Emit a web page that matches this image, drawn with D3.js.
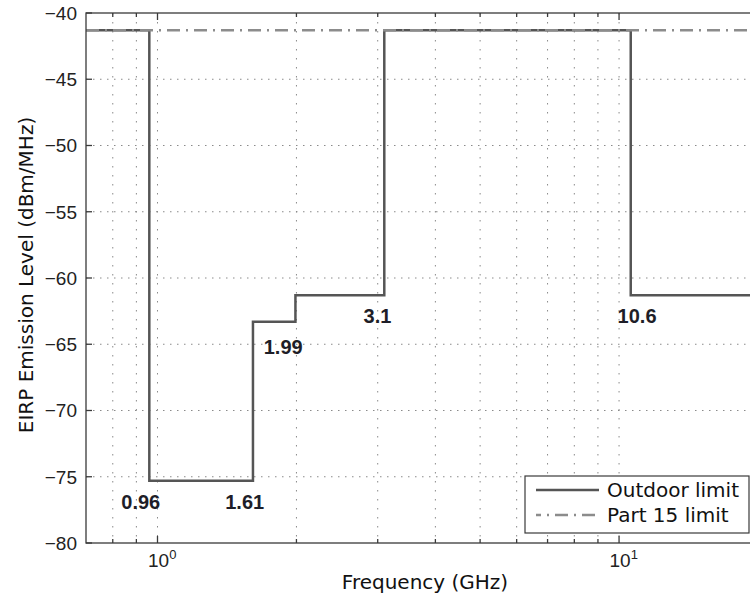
<!DOCTYPE html>
<html>
<head>
<meta charset="utf-8">
<script src="https://cdn.jsdelivr.net/npm/d3@7"></script>
<style>
  html, body { margin: 0; padding: 0; background: #fff; }
  svg { display: block; }
</style>
</head>
<body>
<script>
// ---- data ----
const freqEdges = [0.7, 0.96, 1.61, 1.99, 3.1, 10.6, 20];          // GHz
const outdoorLevels = [-41.3, -75.3, -63.3, -61.3, -41.3, -61.3];  // dBm/MHz per band
const part15Freq = [0.7, 20];
const part15Levels = [-41.3, -41.3];
const yTicks = [-80, -75, -70, -65, -60, -55, -50, -45, -40];
const xMajorTicks = [1, 10];
const xMajorLabels = ["0", "1"]; // exponents of 10
const xMinorTicks = [0.8, 0.9, 2, 3, 4, 5, 6, 7, 8, 9, 20];
const annoText = ["0.96", "1.61", "1.99", "3.1", "10.6"];
const annoFreq = [0.92, 1.545, 1.872, 2.996, 10.94];
const annoLevel = [-77.4, -77.4, -65.7, -63.4, -63.4];
const legendLabels = ["Outdoor limit", "Part 15 limit"];

// ---- layout ----
const W = 750, H = 597;
const L = 86, R = 758, T = 13, B = 543;
const svg = d3.select("body").append("svg").attr("width", W).attr("height", H);
svg.append("rect").attr("width", W).attr("height", H).attr("fill", "#fff");

const x = d3.scaleLog().domain([0.7, 20]).range([L, R]);
const y = d3.scaleLinear().domain([-80, -40]).range([B, T]);

svg.append("clipPath").attr("id", "plotclip").append("rect")
  .attr("x", L).attr("y", T).attr("width", R - L).attr("height", B - T);

const gridColor = "#8a8a8a";
const grid = svg.append("g");
// horizontal grid
grid.selectAll(".hg").data(yTicks.filter(v => v > -80 && v < -40)).enter().append("line")
  .attr("x1", L).attr("x2", R).attr("y1", d => y(d)).attr("y2", d => y(d))
  .attr("stroke", gridColor).attr("stroke-width", 1).attr("stroke-dasharray", "1.5,5.5");
// vertical grid
grid.selectAll(".vg").data(xMajorTicks.concat(xMinorTicks)).enter().append("line")
  .attr("x1", d => x(d)).attr("x2", d => x(d)).attr("y1", T).attr("y2", B)
  .attr("stroke", gridColor).attr("stroke-width", 1).attr("stroke-dasharray", "1.5,7.5");

// lines
const plot = svg.append("g").attr("clip-path", "url(#plotclip)");
const stepPts = freqEdges.map((f, i) => [f, i < outdoorLevels.length ? outdoorLevels[i] : outdoorLevels[outdoorLevels.length - 1]]);
const line = d3.line().x(d => x(d[0])).y(d => y(d[1])).curve(d3.curveStepAfter);
plot.append("path").attr("d", line(stepPts))
  .attr("fill", "none").attr("stroke", "#555").attr("stroke-width", 2.5);
const p15 = part15Freq.map((f, i) => [f, part15Levels[i]]);
plot.append("path").attr("d", d3.line().x(d => x(d[0])).y(d => y(d[1]))(p15))
  .attr("fill", "none").attr("stroke", "#8c8c8c").attr("stroke-width", 2.5)
  .attr("stroke-dasharray", "13,6,2,6");

// axes box
const axisColor = "#3a3a3a";
svg.append("rect").attr("x", L).attr("y", T).attr("width", R - L).attr("height", B - T)
  .attr("fill", "none").attr("stroke", axisColor).attr("stroke-width", 1.3);

// ticks
const tk = svg.append("g").attr("stroke", axisColor).attr("stroke-width", 1.3);
xMajorTicks.forEach(v => {
  tk.append("line").attr("x1", x(v)).attr("x2", x(v)).attr("y1", B).attr("y2", B - 7);
  tk.append("line").attr("x1", x(v)).attr("x2", x(v)).attr("y1", T).attr("y2", T + 7);
});
xMinorTicks.forEach(v => {
  tk.append("line").attr("x1", x(v)).attr("x2", x(v)).attr("y1", B).attr("y2", B - 4);
  tk.append("line").attr("x1", x(v)).attr("x2", x(v)).attr("y1", T).attr("y2", T + 4);
});
yTicks.forEach(v => {
  tk.append("line").attr("x1", L).attr("x2", L + 6).attr("y1", y(v)).attr("y2", y(v));
  tk.append("line").attr("x1", R).attr("x2", R - 6).attr("y1", y(v)).attr("y2", y(v));
});

// tick labels
const tickFont = "'Liberation Sans', Arial, Helvetica, sans-serif";
svg.append("g").selectAll("text").data(yTicks).enter().append("text")
  .attr("x", L - 9).attr("y", d => y(d)).attr("dy", "0.36em")
  .attr("text-anchor", "end").attr("font-family", tickFont).attr("font-size", 19)
  .attr("fill", "#222").text(d => d3.format("")(d).replace("-", "\u2212"));
xMajorTicks.forEach((v, i) => {
  const t = svg.append("text").attr("x", x(v) - 9.5).attr("y", 567)
    .attr("font-family", tickFont).attr("font-size", 19).attr("fill", "#222");
  t.append("tspan").text("10");
  t.append("tspan").attr("dy", -8.5).attr("font-size", 13).text(xMajorLabels[i]);
});

// axis titles
const titleFont = "'DejaVu Sans', Verdana, sans-serif";
svg.append("text").attr("x", (L + R) / 2 + 3).attr("y", 589).attr("text-anchor", "middle")
  .attr("font-family", titleFont).attr("font-size", 20).attr("fill", "#111").text("Frequency (GHz)");
svg.append("text").attr("transform", `translate(33,${(T + B) / 2 - 3}) rotate(-90)`)
  .attr("text-anchor", "middle").attr("font-family", titleFont).attr("font-size", 20)
  .attr("fill", "#111").text("EIRP Emission Level (dBm/MHz)");

// annotations
svg.append("g").selectAll("text").data(annoText).enter().append("text")
  .attr("x", (d, i) => x(annoFreq[i])).attr("y", (d, i) => y(annoLevel[i]))
  .attr("text-anchor", "middle").attr("font-family", tickFont).attr("font-weight", "bold")
  .attr("font-size", 20).attr("fill", "#1e1e28").text(d => d);

// legend
const lg = svg.append("g");
lg.append("rect").attr("x", 525).attr("y", 476).attr("width", 224).attr("height", 57)
  .attr("fill", "#fff").attr("stroke", axisColor).attr("stroke-width", 1.2);
const legStyles = [
  { stroke: "#555", dash: null },
  { stroke: "#8c8c8c", dash: "13,6,2,6" }
];
legendLabels.forEach((lab, i) => {
  const yy = 490 + i * 25;
  const l = lg.append("line").attr("x1", 536).attr("x2", 599).attr("y1", yy).attr("y2", yy)
    .attr("stroke", legStyles[i].stroke).attr("stroke-width", 2.5);
  if (legStyles[i].dash) l.attr("stroke-dasharray", legStyles[i].dash).attr("stroke-dashoffset", 8);
  lg.append("text").attr("x", 607).attr("y", yy + 7).attr("font-family", titleFont)
    .attr("font-size", 20).attr("fill", "#111").text(lab);
});
</script>
</body>
</html>
